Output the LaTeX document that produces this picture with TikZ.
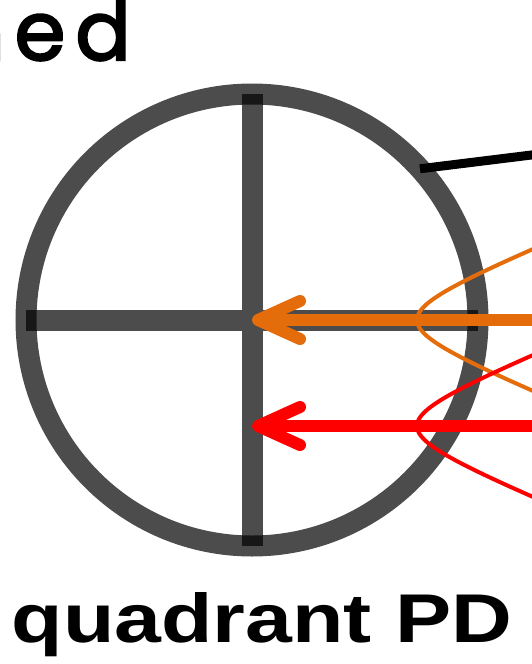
\documentclass[tikz,border=0pt]{standalone}
\usepackage{fontspec}
\newfontfamily\labelfont{Liberation Sans}
\newfontfamily\handfont{Poppins}[FakeBold=2.6,LetterSpace=12]
\usetikzlibrary{arrows.meta,positioning}
\definecolor{Beam}{HTML}{E46C0A}
\definecolor{BeamRed}{HTML}{FF0000}
\tikzset{
  ring/.style={circle,draw=black,draw opacity=0.7,line width=21pt,minimum size=452pt,inner sep=0pt,outer sep=0pt},
  crossline/.style={draw=black,draw opacity=0.7,line width=21pt},
  leader/.style={draw=black,line width=9pt},
  profile/.style={line width=4pt},
  beam/.style={-{Straight Barb[length=42pt,width=38pt,round]},line width=12pt}
}

\begin{document}
\begin{tikzpicture}[x=1pt,y=-1pt]
  \useasboundingbox (0,0) rectangle (531,664);
  % photodiode
  \node[ring] (pd) at (252,320) {};
  \draw[crossline] (pd.north) -- (pd.south) (pd.west) -- (pd.east);
  \coordinate (lbl) at (580,149);
  \draw[leader] (pd.42.5) -- (lbl);
  % beam profiles
  \draw[profile,Beam] plot[domain=-90:90,samples=91,smooth] ({417+74*(sqrt(1+(\x/30)^2)-1)},{320+\x});
  \draw[profile,BeamRed] plot[domain=-90:90,samples=91,smooth] ({417+74*(sqrt(1+(\x/30)^2)-1)},{426+\x});
  % beams
  \coordinate (oin) at (545,320);
  \coordinate (rin) at (545,426);
  \coordinate (rtip) at (252,426);
  \draw[beam,Beam] (oin) -- (pd.center);
  \draw[beam,BeamRed] (rin) -- (rtip);
  % labels
  \node[anchor=base east,inner sep=0pt,font=\handfont\fontsize{82}{100}\selectfont] (word) at (131,60) {ned};
  \node[anchor=base,inner sep=0pt,xscale=1.22,transform shape,font=\labelfont\bfseries\fontsize{69}{80}\selectfont] (title) at (262,642) {quadrant PD};
\end{tikzpicture}
\end{document}
